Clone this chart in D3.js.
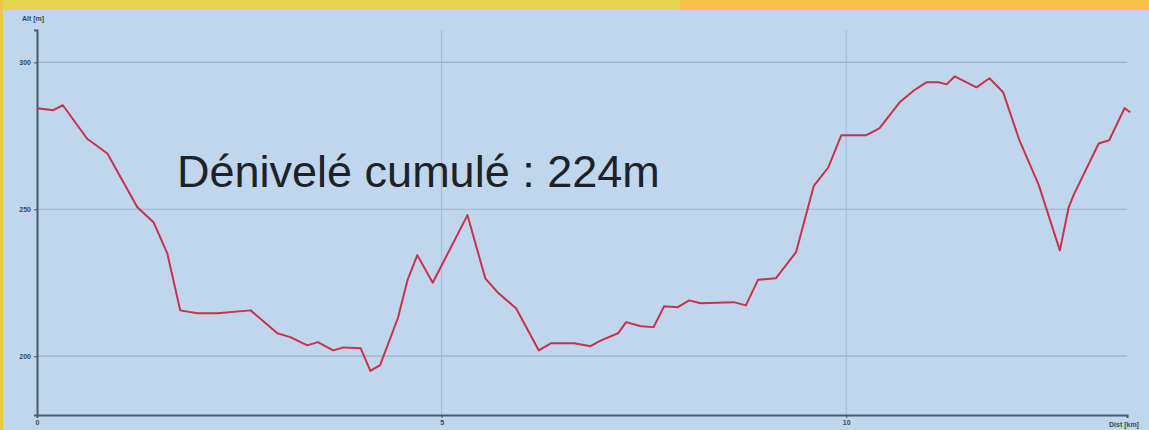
<!DOCTYPE html>
<html>
<head>
<meta charset="utf-8">
<script src="https://cdn.jsdelivr.net/npm/d3@7"></script>
<style>
  body { margin: 0; overflow: hidden; background: #bfd6ec; }
  svg { display: block; }
</style>
</head>
<body>
<div id="chart"></div>
<script>
// distance (km) / altitude (m)
var dist = [0, 0.2, 0.32, 0.62, 0.87, 1.24, 1.44, 1.61, 1.77, 1.98, 2.23, 2.64, 2.97, 3.13, 3.34, 3.47, 3.66, 3.79, 4.0, 4.12, 4.24,
    4.46, 4.58, 4.70, 4.89, 5.32, 5.54, 5.69, 5.92, 6.20, 6.35, 6.64, 6.84, 6.97, 7.18, 7.28, 7.46, 7.62, 7.75, 7.92, 8.06, 8.2,
    8.61, 8.76, 8.91, 9.13, 9.38, 9.60, 9.78, 9.94, 10.25, 10.41, 10.66, 10.84, 10.99, 11.14, 11.24, 11.34, 11.61, 11.77, 11.94,
    12.14, 12.38, 12.64, 12.75, 12.82, 13.12, 13.25, 13.44, 13.51];
var alt = [284.4, 283.7, 285.4, 274, 269, 250.7, 245.6, 235, 215.6, 214.6, 214.6, 215.6, 207.8, 206.5, 203.7, 204.8, 202, 203, 202.7, 195, 197,
    213, 226, 234.4, 225, 248, 226.5, 221.8, 216.3, 202, 204.4, 204.4, 203.4, 205.4, 207.8, 211.6, 210.2, 209.9, 217, 216.7, 219, 218,
    218.4, 217.3, 226, 226.5, 235.4, 258, 264.3, 275.2, 275.2, 277.5, 286.4, 290.5, 293.2, 293.2, 292.5, 295.2, 291.5, 294.6, 289.8,
    273.5, 258.2, 236, 250.7, 255.4, 272.4, 273.5, 284.4, 283];
var xTicks = [0, 5, 10];
var yTicks = [200, 250, 300];
var title = "Dénivelé cumulé : 224m";

var W = 1149, H = 430;

var svg = d3.select("#chart").append("svg")
    .attr("width", W)
    .attr("height", H);

// background + coloured frame
svg.append("rect").attr("width", W).attr("height", H).attr("fill", "#bfd6ec");
svg.append("rect").attr("x", 0).attr("y", 0).attr("width", 680).attr("height", 10).attr("fill", "#e2d850");
svg.append("rect").attr("x", 680).attr("y", 0).attr("width", W - 680).attr("height", 10).attr("fill", "#f7c048");
svg.append("rect").attr("x", 0).attr("y", 0).attr("width", 3).attr("height", H).attr("fill", "#e8c84a");

var x = d3.scaleLinear().domain([0, 13.47]).range([37, 1127]);
var y = d3.scaleLinear().domain([180, 311]).range([415, 30]);

// grid
svg.append("g").selectAll("line")
    .data(yTicks)
    .enter().append("line")
    .attr("x1", x(0)).attr("x2", x(13.47))
    .attr("y1", function(d) { return y(d); })
    .attr("y2", function(d) { return y(d); })
    .attr("stroke", "#9cb3ca")
    .attr("stroke-width", 1.2);

svg.append("g").selectAll("line")
    .data(xTicks.slice(1))
    .enter().append("line")
    .attr("x1", function(d) { return x(d); })
    .attr("x2", function(d) { return x(d); })
    .attr("y1", y(311)).attr("y2", y(180))
    .attr("stroke", "#a6bbd0")
    .attr("stroke-width", 1);

// axes
var xAxis = svg.append("g")
    .attr("transform", "translate(0," + y(180) + ")")
    .call(d3.axisBottom(x).tickValues(xTicks).tickSize(3).tickFormat(d3.format("d")));
var yAxis = svg.append("g")
    .attr("transform", "translate(" + x(0) + ",0)")
    .call(d3.axisLeft(y).tickValues(yTicks).tickSize(3).tickFormat(d3.format("d")));

[xAxis, yAxis].forEach(function(a) {
    a.select(".domain").attr("stroke", "#4a5a6a").attr("stroke-width", 2);
    a.selectAll(".tick line").attr("stroke", "#4a5a6a");
    a.selectAll("text")
        .attr("fill", "#3a4858")
        .style("font-family", "Liberation Sans, Arial, sans-serif")
        .style("font-size", "7px")
        .style("font-weight", "bold");
});
xAxis.selectAll("text").attr("dy", "0.6em");

svg.append("text")
    .attr("x", 22).attr("y", 21)
    .attr("fill", "#3a4858")
    .style("font-family", "Liberation Sans, Arial, sans-serif")
    .style("font-size", "7px")
    .style("font-weight", "bold")
    .text("Alt [m]");

svg.append("text")
    .attr("x", 1109).attr("y", 427)
    .attr("fill", "#3a4858")
    .style("font-family", "Liberation Sans, Arial, sans-serif")
    .style("font-size", "7px")
    .style("font-weight", "bold")
    .text("Dist [km]");

// profile
var line = d3.line()
    .x(function(d, i) { return x(dist[i]); })
    .y(function(d) { return y(d); });

svg.append("path")
    .datum(alt)
    .attr("d", line)
    .attr("fill", "none")
    .attr("stroke", "#c8324a")
    .attr("stroke-width", 2)
    .attr("stroke-linejoin", "round");

svg.append("text")
    .attr("x", 177).attr("y", 187)
    .attr("fill", "#1c2228")
    .style("font-family", "Liberation Sans, Arial, sans-serif")
    .style("font-size", "45px")
    .text(title);
</script>
</body>
</html>
